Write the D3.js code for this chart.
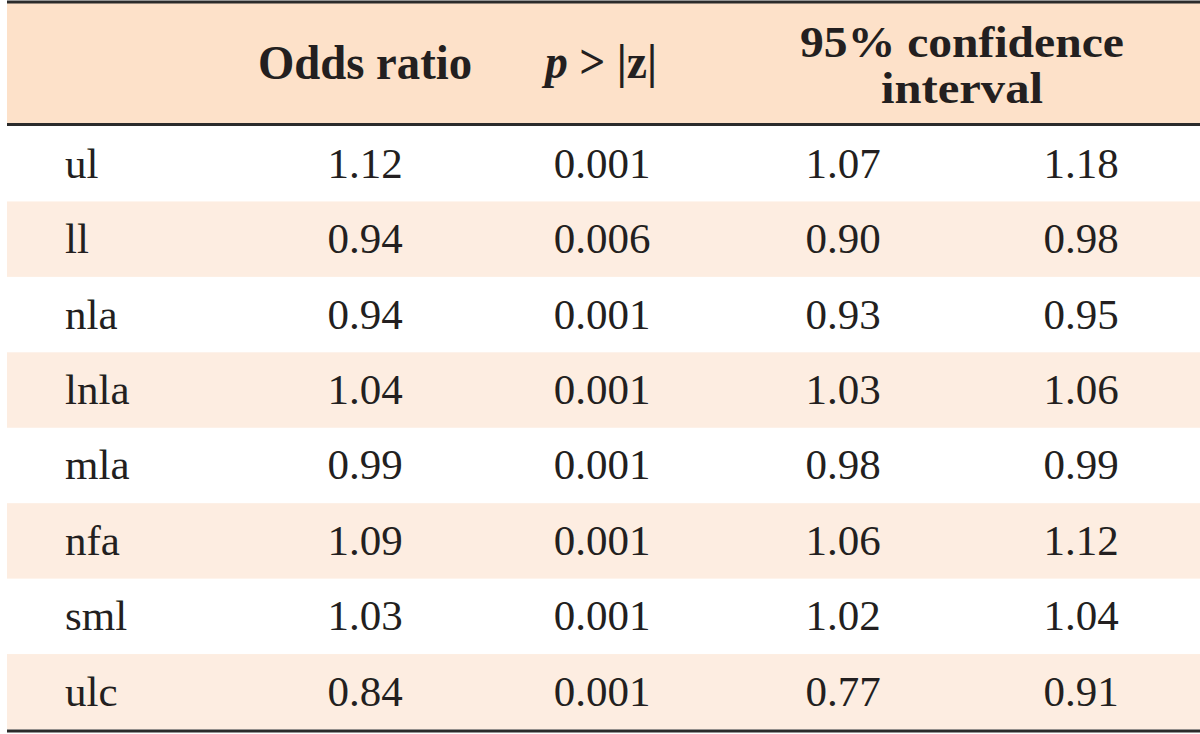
<!DOCTYPE html>
<html>
<head>
<meta charset="utf-8">
<script src="https://cdn.jsdelivr.net/npm/d3@7"></script>
<style>
  html, body { margin: 0; padding: 0; background: #ffffff; }
  svg { display: block; }
</style>
</head>
<body>
<svg id="chart" width="1200" height="734"></svg>
<script>
// ---- data ----
const rowLabels = ["ul", "ll", "nla", "lnla", "mla", "nfa", "sml", "ulc"];
const oddsRatio = [1.12, 0.94, 0.94, 1.04, 0.99, 1.09, 1.03, 0.84];
const pValues   = [0.001, 0.006, 0.001, 0.001, 0.001, 0.001, 0.001, 0.001];
const ciLower   = [1.07, 0.90, 0.93, 1.03, 0.98, 1.06, 1.02, 0.77];
const ciUpper   = [1.18, 0.98, 0.95, 1.06, 0.99, 1.12, 1.04, 0.91];
const columnKeys = ["label", "or", "p", "lo", "hi"];

// ---- layout ----
const left = 7, right = 1200;
const headerTop = 2, headerBottom = 124.5, tableBottom = 731;
const svg = d3.select("#chart");

const y = d3.scaleBand().domain(d3.range(rowLabels.length))
  .range([headerBottom + 1.5, tableBottom - 1.5]).padding(0);
const colX = d3.scaleOrdinal().domain(columnKeys).range([65, 365, 602, 843, 1081]);

const fmt2 = d3.format(".2f"), fmt3 = d3.format(".3f");
const rows = rowLabels.map((l, i) => ({
  i, label: l,
  or: fmt2(oddsRatio[i]), p: fmt3(pValues[i]),
  lo: fmt2(ciLower[i]), hi: fmt2(ciUpper[i])
}));

// header background
svg.append("rect").attr("x", left).attr("y", headerTop)
  .attr("width", right - left).attr("height", headerBottom - headerTop)
  .attr("fill", "#fde1c9");

// striped rows
svg.selectAll("rect.row").data(rows.filter(r => r.i % 2 === 1)).join("rect")
  .attr("class", "row")
  .attr("x", left).attr("y", r => y(r.i))
  .attr("width", right - left).attr("height", y.bandwidth())
  .attr("fill", "#fdede1");

// rules
const lineColor = "#2b2b2b";
[headerTop, headerBottom, tableBottom].forEach(yy => {
  svg.append("line").attr("x1", left).attr("x2", right)
    .attr("y1", yy).attr("y2", yy)
    .attr("stroke", lineColor).attr("stroke-width", 3);
});

// header text (scaled horizontally to match target widths)
const hFont = "'Liberation Serif', 'Times New Roman', serif";
const textColor = "#231f20";
const hdr = svg.append("g").attr("font-family", hFont).attr("font-weight", "bold")
  .attr("fill", textColor).attr("text-anchor", "middle");

function headerText(cx, baseline, size, targetW, build) {
  const g = hdr.append("g");
  const t = g.append("text").attr("x", 0).attr("y", 0).attr("font-size", size);
  build(t);
  const w = t.node().getComputedTextLength();
  const s = targetW / w;
  g.attr("transform", `translate(${cx},${baseline}) scale(${s},1)`);
}

headerText(colX("or"), 79, 48, 214, t => t.text("Odds ratio"));
headerText(601, 78, 48, 112, t => {
  t.append("tspan").attr("font-style", "italic").text("p");
  t.append("tspan").text(" > |z|");
});
const ciCenter = (colX("lo") + colX("hi")) / 2;
headerText(ciCenter, 57, 45, 324, t => t.text("95% confidence"));
headerText(ciCenter, 103, 45, 162, t => t.text("interval"));

// body text
const body = svg.append("g").attr("font-family", hFont)
  .attr("font-size", 43).attr("fill", textColor);

const rowG = body.selectAll("g.r").data(rows).join("g").attr("class", "r")
  .attr("transform", r => `translate(0,${y(r.i) + y.bandwidth() / 2 + 14})`);

rowG.append("text").attr("x", colX("label")).attr("text-anchor", "start")
  .text(r => r.label);
["or", "p", "lo", "hi"].forEach(k => {
  rowG.append("text").attr("x", colX(k)).attr("text-anchor", "middle")
    .text(r => r[k]);
});
</script>
</body>
</html>
